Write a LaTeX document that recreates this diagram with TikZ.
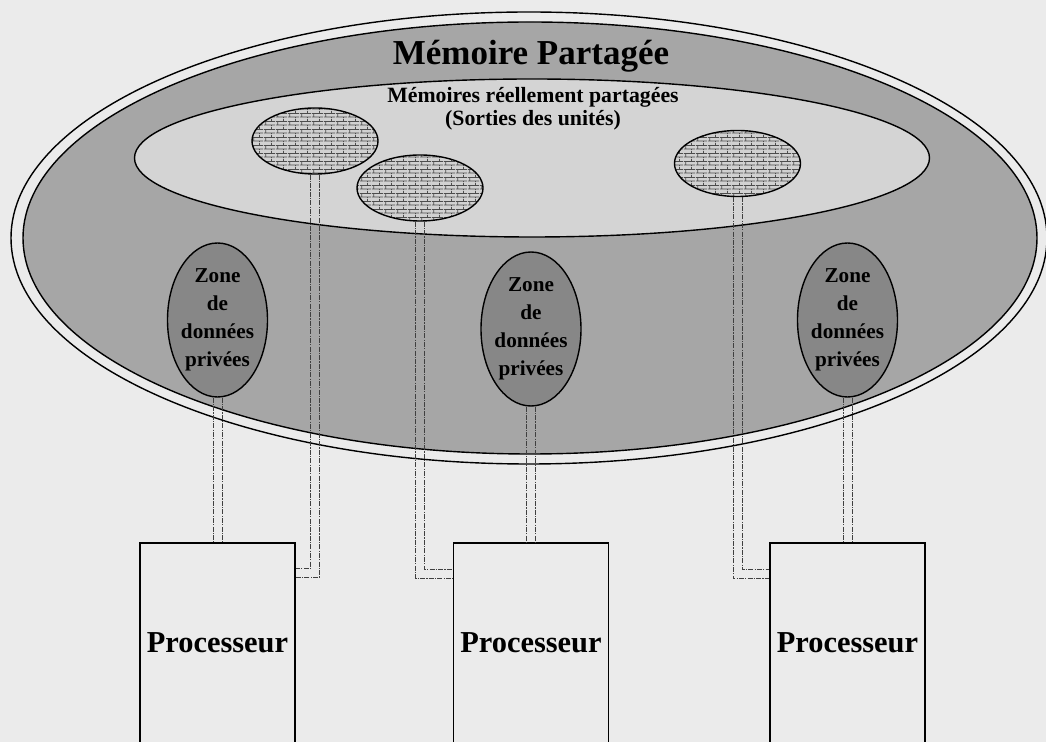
\documentclass[tikz,border=0pt]{standalone}
\usepackage{fontspec}
\setmainfont{Liberation Serif}
\usetikzlibrary{shapes.geometric,patterns.meta}

\tikzdeclarepattern{
  name=petitesbriques,
  type=uncolored,
  bounding box={(0pt,0pt) and (6pt,4pt)},
  tile size={(6pt,4pt)},
  code={
    \draw[line width=0.4pt] (0pt,0.5pt) -- (6pt,0.5pt) (0pt,2.5pt) -- (6pt,2.5pt)
      (1pt,0.5pt) -- (1pt,2.5pt) (4pt,2.5pt) -- (4pt,4pt) (4pt,0pt) -- (4pt,0.5pt);
  }
}

\begin{document}
\begin{tikzpicture}[x=0.5pt, y=-0.5pt, line width=0.7pt,
  memoire/.style={ellipse, draw, inner sep=0pt},
  sortie/.style={memoire, minimum width=63pt, minimum height=33pt,
    preaction={fill=black!18}, pattern=petitesbriques, pattern color=black!70},
  prive/.style={memoire, minimum width=50pt, minimum height=77pt, fill=black!47,
    inner sep=-2pt, align=center, font=\bfseries\fontsize{10.6pt}{14pt}\selectfont},
  proc/.style={draw, rectangle, minimum width=77.5pt, minimum height=100pt,
    font=\bfseries\fontsize{15.2pt}{18pt}\selectfont},
  tuyau/.style={draw=black!75, line width=0.4pt,
    dash pattern=on 2.5pt off 0.6pt on 0.6pt off 0.6pt}]
  \path[use as bounding box, fill=black!8] (0,0) rectangle (1046,742);

  % memoire partagee
  \node[memoire, minimum width=518pt, minimum height=226pt, fill=black!8] (ext) at (529,238) {};
  \node[memoire, minimum width=507pt, minimum height=216pt, fill=black!35] (mp) at (530,238) {};
  \node[memoire, minimum width=397.5pt, minimum height=79pt, fill=black!17] (reel) at (532,158) {};
  \node[font=\bfseries\fontsize{17.5pt}{20pt}\selectfont, anchor=base] (titre) at (531,65) {Mémoire Partagée};
  \node[font=\bfseries\fontsize{10.9pt}{11.5pt}\selectfont, align=center] (soustitre) at (533,109)
    {Mémoires réellement partagées\\(Sorties des unités)};

  % sorties des unites
  \node[sortie] (h1) at (315,141) {};
  \node[sortie] (h2) at (420,188) {};
  \node[sortie] (h3) at (737.5,163.5) {};

  % zones privees
  \node[prive] (z1) at (217.5,320) {Zone\\de\\données\\privées};
  \node[prive] (z2) at (531,329) {Zone\\de\\données\\privées};
  \node[prive] (z3) at (847.5,320) {Zone\\de\\données\\privées};

  % processeurs
  \node[proc] (p1) at (217.5,643) {Processeur};
  \node[proc] (p2) at (531,643) {Processeur};
  \node[proc] (p3) at (847.5,643) {Processeur};

  % liaisons
  \foreach \s in {-2.25,2.25} {
    \draw[tuyau] ([xshift=\s pt]z1.south) -- ([xshift=\s pt]p1.north);
    \draw[tuyau] ([xshift=\s pt]z2.south) -- ([xshift=\s pt]p2.north);
    \draw[tuyau] ([xshift=\s pt]z3.south) -- ([xshift=\s pt]p3.north);
  }
  \foreach \s/\d in {-2.25/13, 2.25/17.5}
    \draw[tuyau] ([xshift=\s pt]h1.south) |- ([yshift=-\d pt]p1.north east);
  \foreach \s/\d in {-2.25/18, 2.25/13.5} {
    \draw[tuyau] ([xshift=\s pt]h2.south) |- ([yshift=-\d pt]p2.north west);
    \draw[tuyau] ([xshift=\s pt]h3.south) |- ([yshift=-\d pt]p3.north west);
  }
\end{tikzpicture}
\end{document}
